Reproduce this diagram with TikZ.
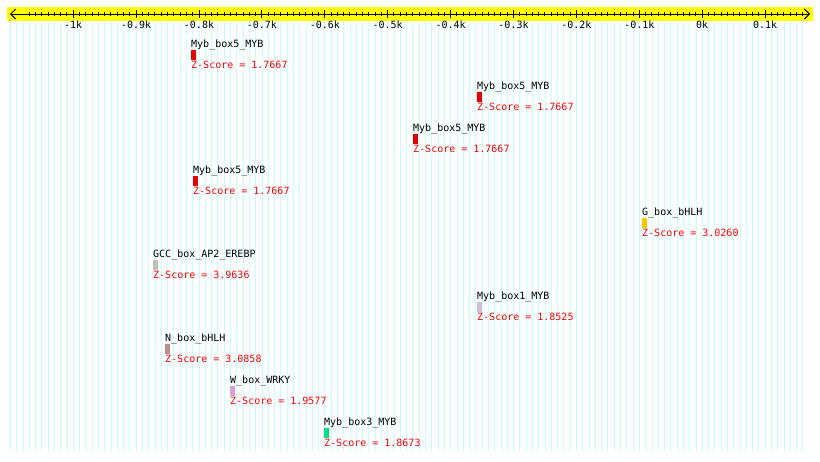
\documentclass[tikz,border=0pt]{standalone}
\usepackage{fontspec}
\setmonofont{DejaVu Sans Mono}
\usetikzlibrary{arrows.meta}
\usepackage{xcolor}
\definecolor{giallo}{RGB}{255,255,0}
\definecolor{azzurrino}{RGB}{200,255,255}
\definecolor{rosso}{RGB}{232,0,0}
\definecolor{oro}{RGB}{245,200,0}
\definecolor{grigio}{RGB}{192,192,192}
\definecolor{lilla}{RGB}{210,192,216}
\definecolor{rosato}{RGB}{184,144,144}
\definecolor{prugna}{RGB}{216,160,216}
\definecolor{verde}{RGB}{0,224,128}

\begin{document}
\begin{tikzpicture}[
  x=1pt, y=-1pt,
  font=\ttfamily\fontsize{10}{12}\selectfont,
  griglia/.style={draw=azzurrino, line width=0.75pt},
  tacca/.style={draw=black, line width=1pt},
  freccia/.style={draw=black, line width=1pt,
                  {Straight Barb[length=5pt,width=10pt]}-{Straight Barb[length=5pt,width=10pt]}},
  etichetta/.style={anchor=base west, inner sep=0pt, text=black},
  punteggio/.style={anchor=base west, inner sep=0pt, text=red},
  riquadro/.style={anchor=north west, inner sep=0pt, draw=none,
                   minimum width=5pt, minimum height=10pt}
]
\useasboundingbox[fill=white] (0,0) rectangle (820,461);

% ---- griglia verticale, un trattino ogni 10 bp -------------------------
\foreach \b in {-1100,-1090,...,160} {
  \draw[griglia] ({702.2+0.629*\b},21) -- ({702.2+0.629*\b},452);
}

% ---- righello in alto ---------------------------------------------------
\fill[giallo] (7,7) rectangle (813,21);
\coordinate (inizio) at (10,14);
\coordinate (fine) at (810,14);
\draw[freccia] (inizio) -- (fine);
\foreach \b in {-1070,-1060,...,160} {
  \draw[tacca] ({702.2+0.629*\b},12) -- ({702.2+0.629*\b},16);
}
\foreach \b/\lab [count=\i] in {-1000/-1k, -900/-0.9k, -800/-0.8k, -700/-0.7k,
    -600/-0.6k, -500/-0.5k, -400/-0.4k, -300/-0.3k, -200/-0.2k,
    -100/-0.1k, 0/0k, 100/0.1k} {
  \draw[tacca] ({702.2+0.629*\b},10) -- ({702.2+0.629*\b},18);
  \node[anchor=base, inner sep=0pt] (tacca\i) at ({702.2+0.629*\b},28) {\lab};
}

% ---- motivi trovati -----------------------------------------------------
\foreach \n/\x/\nome/\z/\col in {
    1/191/Myb\_box5\_MYB/1.7667/rosso,
    2/477/Myb\_box5\_MYB/1.7667/rosso,
    3/413/Myb\_box5\_MYB/1.7667/rosso,
    4/193/Myb\_box5\_MYB/1.7667/rosso,
    5/642/G\_box\_bHLH/3.0260/oro,
    6/153/GCC\_box\_AP2\_EREBP/3.9636/grigio,
    7/477/Myb\_box1\_MYB/1.8525/lilla,
    8/165/N\_box\_bHLH/3.0858/rosato,
    9/230/W\_box\_WRKY/1.9577/prugna,
    10/324/Myb\_box3\_MYB/1.8673/verde} {
  \pgfmathsetmacro{\yy}{42*(\n-1)}
  \node[etichetta] (nome\n) at (\x,47+\yy) {\nome};
  \node[riquadro, fill=\col] (box\n) at (\x,49.5+\yy) {};
  \node[punteggio] (zeta\n) at (\x,68+\yy) {Z-Score = \z};
}

\end{tikzpicture}
\end{document}
